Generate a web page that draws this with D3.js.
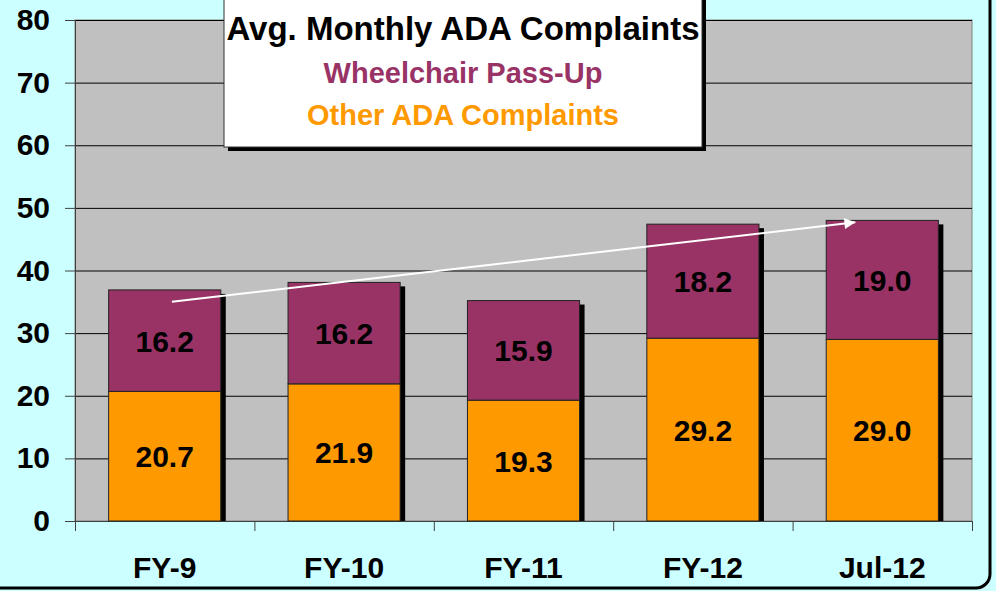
<!DOCTYPE html>
<html>
<head>
<meta charset="utf-8">
<script src="https://cdn.jsdelivr.net/npm/d3@7"></script>
<style>
  body { margin: 0; background: #ccffff; }
  svg { display: block; font-family: "Liberation Sans", Arial, sans-serif; font-weight: bold; }
</style>
</head>
<body>
<div id="chart"></div>
<script>
// data
const categories = ["FY-9", "FY-10", "FY-11", "FY-12", "Jul-12"];
const otherAda = [20.7, 21.9, 19.3, 29.2, 29.0];
const wheelchair = [16.2, 16.2, 15.9, 18.2, 19.0];
const yTicks = [0, 10, 20, 30, 40, 50, 60, 70, 80];
// trend arrow: from FY-9 to Jul-12
const trendFrom = { cat: "FY-9", value: 35.0, dx: 0.04 };
const trendTo = { cat: "Jul-12", value: 47.7, dx: -0.15 };

const W = 996, H = 591;
const plot = { left: 75, right: 972, top: 20, bottom: 521 };
const labelSize = 30;

const svg = d3.select("#chart").append("svg")
    .attr("width", W)
    .attr("height", H);

// outer chart border (only right/bottom edges are visible)
svg.append("rect")
    .attr("x", -20).attr("y", -20)
    .attr("width", 1010).attr("height", 608)
    .attr("rx", 14)
    .attr("fill", "#ccffff")
    .attr("stroke", "#000")
    .attr("stroke-width", 3);

const x = d3.scaleBand()
    .domain(categories)
    .range([plot.left, plot.right])
    .padding(0);

const y = d3.scaleLinear()
    .domain([0, 80])
    .range([plot.bottom, plot.top]);

// plot area
svg.append("rect")
    .attr("x", plot.left).attr("y", plot.top)
    .attr("width", plot.right - plot.left)
    .attr("height", plot.bottom - plot.top)
    .attr("fill", "#c0c0c0")
    .attr("stroke", "#808080")
    .attr("stroke-width", 1);

// gridlines
svg.append("g")
    .selectAll("line")
    .data(yTicks.filter(d => d > 0))
    .join("line")
    .attr("x1", plot.left).attr("x2", plot.right)
    .attr("y1", d => y(d) + 0.5).attr("y2", d => y(d) + 0.5)
    .attr("stroke", "#000")
    .attr("stroke-width", 1);

// y axis
const yAxis = svg.append("g")
    .attr("transform", `translate(${plot.left},0)`)
    .call(d3.axisLeft(y).tickValues(yTicks).tickSize(10).tickPadding(15));
yAxis.select(".domain").attr("stroke", "#404040");
yAxis.selectAll(".tick line").attr("stroke", "#404040");
yAxis.selectAll("text")
    .attr("fill", "#000")
    .style("font-size", labelSize + "px")
    .style("font-weight", "bold")
    .style("font-family", "Liberation Sans, Arial, sans-serif");

// x axis: ticks on category boundaries
const boundaries = categories.map(c => x(c)).concat([plot.right]);
const xg = svg.append("g");
xg.append("line")
    .attr("x1", plot.left).attr("x2", plot.right)
    .attr("y1", plot.bottom + 0.5).attr("y2", plot.bottom + 0.5)
    .attr("stroke", "#404040");
xg.selectAll("line.tk")
    .data(boundaries)
    .join("line")
    .attr("class", "tk")
    .attr("x1", d => d + 0.5).attr("x2", d => d + 0.5)
    .attr("y1", plot.bottom).attr("y2", plot.bottom + 10)
    .attr("stroke", "#404040");
xg.selectAll("text")
    .data(categories)
    .join("text")
    .attr("x", d => x(d) + x.bandwidth() / 2)
    .attr("y", 578)
    .attr("text-anchor", "middle")
    .attr("font-size", labelSize)
    .text(d => d);

// stacked bars
const series = categories.map((c, i) => ({
  cat: c,
  other: otherAda[i],
  wheel: wheelchair[i]
}));
const barW = x.bandwidth() * 0.625;
const barX = d => x(d.cat) + (x.bandwidth() - barW) / 2;

const bars = svg.append("g").selectAll("g")
    .data(series)
    .join("g");

// shadow
bars.append("rect")
    .attr("x", d => barX(d) + 5)
    .attr("y", d => y(d.other + d.wheel) + 4)
    .attr("width", barW)
    .attr("height", d => plot.bottom - y(d.other + d.wheel) - 4)
    .attr("fill", "#000");

bars.append("rect")
    .attr("x", barX)
    .attr("y", d => y(d.other))
    .attr("width", barW)
    .attr("height", d => plot.bottom - y(d.other))
    .attr("fill", "#ff9900")
    .attr("stroke", "#222")
    .attr("stroke-width", 1);

bars.append("rect")
    .attr("x", barX)
    .attr("y", d => y(d.other + d.wheel))
    .attr("width", barW)
    .attr("height", d => y(d.other) - y(d.other + d.wheel))
    .attr("fill", "#993366")
    .attr("stroke", "#222")
    .attr("stroke-width", 1);

bars.append("text")
    .attr("x", d => barX(d) + barW / 2)
    .attr("y", d => y(d.other / 2) + 11)
    .attr("text-anchor", "middle")
    .attr("font-size", labelSize)
    .text(d => d.other.toFixed(1));

bars.append("text")
    .attr("x", d => barX(d) + barW / 2)
    .attr("y", d => y(d.other + d.wheel / 2) + 11)
    .attr("text-anchor", "middle")
    .attr("font-size", labelSize)
    .text(d => d.wheel.toFixed(1));

// trend arrow
svg.append("defs").append("marker")
    .attr("id", "head")
    .attr("viewBox", "0 0 10 10")
    .attr("refX", 10).attr("refY", 5)
    .attr("markerWidth", 15).attr("markerHeight", 11)
    .attr("markerUnits", "userSpaceOnUse")
    .attr("orient", "auto")
    .append("path")
    .attr("d", "M0,0 L10,5 L0,10 Z")
    .attr("fill", "#fff");

const ax = (p) => x(p.cat) + x.bandwidth() * (0.5 + p.dx);
svg.append("line")
    .attr("x1", ax(trendFrom)).attr("y1", y(trendFrom.value))
    .attr("x2", ax(trendTo)).attr("y2", y(trendTo.value))
    .attr("stroke", "#fff")
    .attr("stroke-width", 2)
    .attr("marker-end", "url(#head)");

// title box
const tb = { x: 224, y: -4, w: 478, h: 151 };
svg.append("rect")
    .attr("x", tb.x + 4).attr("y", tb.y + 4)
    .attr("width", tb.w).attr("height", tb.h)
    .attr("fill", "#000");
svg.append("rect")
    .attr("x", tb.x).attr("y", tb.y)
    .attr("width", tb.w).attr("height", tb.h)
    .attr("fill", "#fff")
    .attr("stroke", "#333")
    .attr("stroke-width", 1);

const cx = tb.x + tb.w / 2;
const titles = [
  { text: "Avg. Monthly ADA Complaints", color: "#000", size: 33, y: 40 },
  { text: "Wheelchair Pass-Up", color: "#993366", size: 29, y: 83 },
  { text: "Other ADA Complaints", color: "#ff9900", size: 29, y: 125 }
];
svg.append("g").selectAll("text")
    .data(titles)
    .join("text")
    .attr("x", cx)
    .attr("y", d => d.y)
    .attr("text-anchor", "middle")
    .attr("font-size", d => d.size)
    .attr("fill", d => d.color)
    .text(d => d.text);
</script>
</body>
</html>
